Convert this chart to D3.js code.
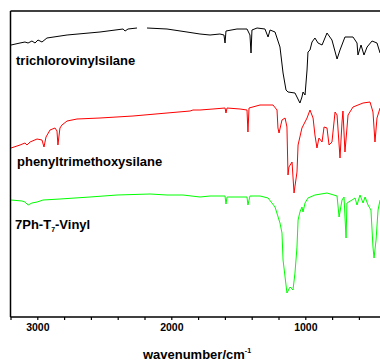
<!DOCTYPE html>
<html>
<head>
<meta charset="utf-8">
<script src="https://cdn.jsdelivr.net/npm/d3@7"></script>
<style>
  body { margin: 0; background: #fff; }
  svg { display: block; font-family: "Liberation Sans", Arial, sans-serif; }
</style>
</head>
<body>
<script>
// wavenumber (cm-1) vs offset transmittance (a.u.)
const trichlorovinylsilane = [
  [3196, 272], [3129, 274], [3092, 275], [3069, 274], [3040, 276], [3017, 274], [2995, 277],
  [2965, 275], [2928, 279], [2778, 282], [2532, 285], [2360, 288], [2345, 286], [2323, 288],
  [2256, 289], [2235, null], [2181, 289], [2032, 288], [1883, 285], [1786, 283], [1711, 282],
  [1637, 283], [1607, 282], [1599, 274], [1592, 286], [1510, 288], [1435, 288], [1413, 282],
  [1405, 264], [1398, 287], [1360, 289], [1301, 288], [1278, 280], [1263, 287], [1226, 285],
  [1189, 270], [1166, 244], [1144, 227], [1129, 225], [1077, 224], [1040, 214], [1025, 220],
  [1017, 225], [1002, 222], [987, 247], [980, 265], [965, 267], [950, 275], [928, 279],
  [905, 274], [875, 272], [838, 284], [801, 277], [763, 258], [741, 267], [704, 280],
  [644, 280], [614, 274], [607, 262], [584, 272], [562, 262], [539, 270], [502, 276],
  [465, 274], [442, 264]
];
const phenyltrimethoxysilane = [
  [3196, 169], [3129, 172], [3092, 174], [3077, 172], [3054, 175], [3002, 178], [2965, 177],
  [2950, 170], [2935, 180], [2905, 187], [2868, 189], [2853, 186], [2846, 172], [2831, 189],
  [2816, 192], [2778, 196], [2704, 198], [2532, 199], [2286, 201], [2032, 204], [1860, 206],
  [1838, 207], [1786, 207], [1689, 208], [1599, 209], [1592, 204], [1584, 209], [1487, 208],
  [1435, 207], [1428, 185], [1420, 209], [1338, 212], [1241, 212], [1211, 207], [1204, 189],
  [1196, 184], [1174, 197], [1151, 199], [1137, 190], [1129, 142], [1122, 150], [1099, 155],
  [1084, 124], [1062, 145], [1054, 172], [1025, 189], [987, 199], [965, 207], [942, 199],
  [928, 182], [913, 169], [898, 179], [875, 175], [860, 190], [838, 189], [823, 172],
  [801, 175], [778, 205], [763, 202], [741, 159], [726, 195], [719, 206], [704, 165],
  [689, 189], [681, 202], [644, 210], [569, 214], [517, 215], [495, 205], [480, 175],
  [465, 199], [442, 209]
];
const ph7T7Vinyl = [
  [3196, 117], [3114, 116], [3092, 115], [3069, 112], [3040, 114], [3002, 115], [2957, 117],
  [2831, 118], [2607, 120], [2405, 122], [2159, 123], [2032, 122], [1913, 122], [1786, 120],
  [1711, 121], [1599, 121], [1592, 113], [1584, 120], [1435, 120], [1428, 112], [1413, 121],
  [1338, 121], [1278, 119], [1226, 110], [1189, 94], [1174, 84], [1166, 57], [1144, 32],
  [1137, 24], [1114, 30], [1092, 27], [1077, 44], [1062, 70], [1054, 97], [1040, 105],
  [1025, 110], [1017, 105], [1002, 114], [980, 119], [928, 122], [838, 124], [763, 121],
  [748, 100], [726, 117], [711, 120], [696, 79], [689, 114], [651, 117], [629, 119],
  [614, 112], [592, 122], [569, 114], [554, 120], [532, 112], [510, 107], [495, 70],
  [487, 59], [472, 77], [457, 107], [442, 117]
];
const seriesNames = ["trichlorovinylsilane", "phenyltrimethoxysilane", "7Ph-T7-Vinyl"];
const seriesColors = ["#000000", "#ff0000", "#00ff00"];
const majorTicks = [3000, 2000, 1000];
const xTitle = "wavenumber/cm";

const W = 380, H = 363;
const svg = d3.select("body").append("svg")
  .attr("width", W)
  .attr("height", H);

const x = d3.scaleLinear().domain([3200, 400]).range([10.5, 385.7]);
const y = d3.scaleLinear().domain([0, 306]).range([317, 11]);

// spectra
const line = d3.line()
  .defined(d => d[1] !== null)
  .x(d => x(d[0]))
  .y(d => y(d[1]));

[trichlorovinylsilane, phenyltrimethoxysilane, ph7T7Vinyl].forEach((s, i) => {
  svg.append("path")
    .datum(s)
    .attr("d", line)
    .attr("fill", "none")
    .attr("stroke", seriesColors[i])
    .attr("stroke-width", 1)
    .attr("stroke-linejoin", "round");
});

// frame: top and left lines
svg.append("line")
  .attr("x1", x(3200)).attr("x2", W)
  .attr("y1", y(306)).attr("y2", y(306))
  .attr("stroke", "#000").attr("stroke-width", 1.5);
svg.append("line")
  .attr("x1", x(3200)).attr("x2", x(3200))
  .attr("y1", y(306)).attr("y2", y(0))
  .attr("stroke", "#000").attr("stroke-width", 1.5);

// bottom axis
const xAxis = d3.axisBottom(x)
  .tickValues(d3.range(3200, 399, -200))
  .tickSize(3)
  .tickFormat(d => majorTicks.includes(d) ? d : "");
const xg = svg.append("g")
  .attr("transform", "translate(0," + y(0) + ")")
  .call(xAxis);
xg.select(".domain").attr("stroke-width", 1.5).attr("d", "M" + x(3200) + ",0H" + W);
xg.selectAll(".tick line").attr("stroke-width", 1.2);
xg.selectAll(".tick text")
  .attr("dy", "0.4em")
  .attr("y", 10)
  .style("font-size", "10.5px")
  .style("font-weight", "bold")
  .style("font-family", "'Liberation Sans', Arial, sans-serif");

// axis title
const t = svg.append("text")
  .attr("x", 197)
  .attr("y", 359)
  .attr("text-anchor", "middle")
  .style("font-size", "13px")
  .style("font-weight", "bold")
  .text(xTitle);
t.append("tspan")
  .attr("dy", -6)
  .style("font-size", "7px")
  .text("-1");

// series labels
const labelPos = [[16, 65], [17, 166], [15, 229]];
labelPos.forEach((p, i) => {
  const lab = svg.append("text")
    .attr("x", p[0])
    .attr("y", p[1])
    .style("font-size", "13px")
    .style("font-weight", "bold");
  if (i < 2) {
    lab.text(seriesNames[i]);
  } else {
    lab.append("tspan").text("7Ph-T");
    lab.append("tspan").attr("dy", 3).style("font-size", "7px").text("7");
    lab.append("tspan").attr("dy", -3).text("-Vinyl");
  }
});
</script>
</body>
</html>
